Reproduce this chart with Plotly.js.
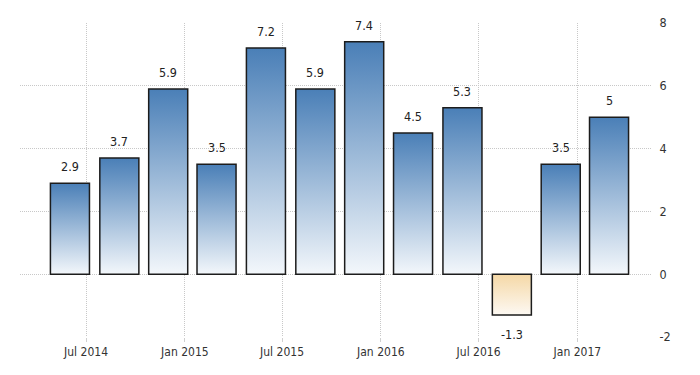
<!DOCTYPE html>
<html>
<head>
<meta charset="utf-8">
<script src="https://cdn.plot.ly/plotly-3.0.1.min.js"></script>
<style>html,body{margin:0;padding:0;background:#fff;}#chart{width:700px;height:375px;}</style>
</head>
<body>
<div id="chart"></div>
<script>
const periods = ['2014-06-01','2014-09-01','2014-12-01','2015-03-01','2015-06-01','2015-09-01','2015-12-01','2016-03-01','2016-06-01','2016-09-01','2016-12-01','2017-03-01'];
const values = [2.9, 3.7, 5.9, 3.5, 7.2, 5.9, 7.4, 4.5, 5.3, -1.3, 3.5, 5];
const labels = ['2.9','3.7','5.9','3.5','7.2','5.9','7.4','4.5','5.3','-1.3','3.5','5'];
const tickDates = ['2014-07-01','2015-01-01','2015-07-01','2016-01-01','2016-07-01','2017-01-01'];
const tickLabels = ['Jul 2014','Jan 2015','Jul 2015','Jan 2016','Jul 2016','Jan 2017'];
const yTicks = [-2, 0, 2, 4, 6, 8];

const FONT = 'Liberation Sans Narrow, DejaVu Sans Condensed, Arial Narrow, Liberation Sans, Arial, sans-serif';
const barWidthMs = 72.7 * 86400000;

const trace = {
  type: 'bar',
  x: periods,
  y: values,
  width: periods.map(() => barWidthMs),
  marker: {
    color: values.map(v => v < 0 ? '#f7e3c0' : '#8fb0d4'),
    line: {color: '#1c1c1c', width: 1.5}
  },
  hoverinfo: 'none'
};

const annotations = periods.map((d, i) => ({
  x: d, y: values[i], xref: 'x', yref: 'y',
  text: labels[i], showarrow: false,
  yanchor: values[i] < 0 ? 'top' : 'bottom',
  yshift: values[i] < 0 ? -10 : 7,
  font: {family: FONT, size: 12.5, color: '#222'}
}));

const layout = {
  width: 700, height: 375,
  margin: {l: 20, r: 48, t: 23, b: 38},
  paper_bgcolor: '#fff', plot_bgcolor: '#fff',
  showlegend: false,
  bargap: 0,
  xaxis: {
    type: 'date',
    range: ['2014-02-28', '2017-05-20'],
    tickmode: 'array', tickvals: tickDates, ticktext: tickLabels,
    showgrid: true, gridcolor: '#c8c8c8', griddash: '1px,1px', gridwidth: 1,
    ticks: 'outside', ticklen: 4, tickcolor: '#d0d0d0',
    zeroline: false, showline: false,
    tickfont: {family: FONT, size: 12, color: '#333'}
  },
  yaxis: {
    side: 'right',
    range: [-2, 8],
    tickmode: 'array', tickvals: yTicks, ticktext: yTicks.map(String),
    showgrid: true, gridcolor: '#c8c8c8', griddash: '1px,1px', gridwidth: 1,
    zeroline: false, showline: false,
    ticks: 'outside', ticklen: 4, tickcolor: '#fff',
    tickfont: {family: FONT, size: 12.5, color: '#333'}
  },
  annotations: annotations
};

Plotly.newPlot('chart', [trace], layout, {displayModeBar: false, staticPlot: true}).then(function (gd) {
  const svg = gd.querySelector('.main-svg');
  const ns = 'http://www.w3.org/2000/svg';
  let defs = svg.querySelector('defs');
  if (!defs) { defs = document.createElementNS(ns, 'defs'); svg.insertBefore(defs, svg.firstChild); }
  function grad(id, c1, c2) {
    const g = document.createElementNS(ns, 'linearGradient');
    g.setAttribute('id', id);
    g.setAttribute('x1', '0'); g.setAttribute('y1', '0');
    g.setAttribute('x2', '0'); g.setAttribute('y2', '1');
    [[0, c1], [1, c2]].forEach(function (s) {
      const st = document.createElementNS(ns, 'stop');
      st.setAttribute('offset', s[0]);
      st.setAttribute('stop-color', s[1]);
      g.appendChild(st);
    });
    defs.appendChild(g);
  }
  grad('gBlue', '#4a7fb7', '#f3f7fb');
  grad('gOrange', '#f5d8a6', '#fdf9f3');
  const paths = gd.querySelectorAll('.barlayer .point path');
  paths.forEach(function (p, i) {
    p.style.fill = values[i] < 0 ? 'url(#gOrange)' : 'url(#gBlue)';
    p.style.fillOpacity = 1;
  });
});
</script>
</body>
</html>
